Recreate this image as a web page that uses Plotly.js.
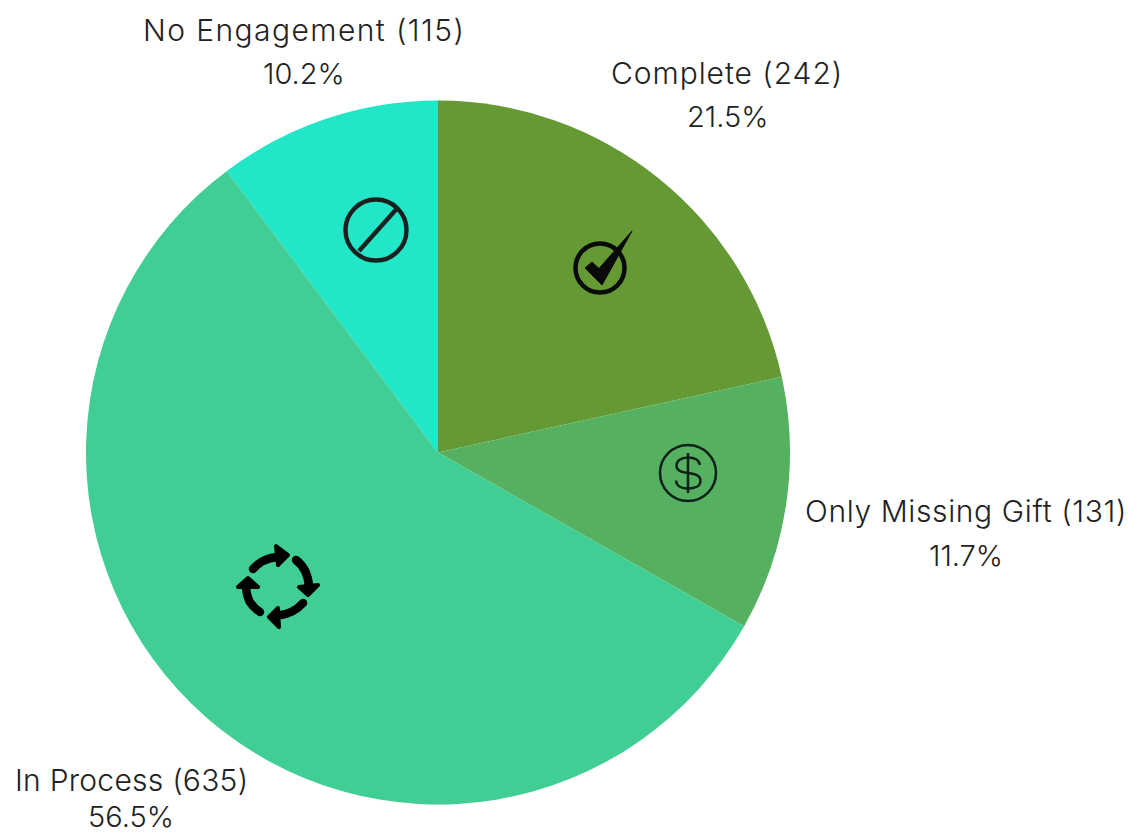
<!DOCTYPE html>
<html><head><meta charset="utf-8">
<script src="https://cdn.plot.ly/plotly-3.0.1.min.js"></script>
<style>html,body{margin:0;padding:0;background:#fff}#c{width:1137px;height:834px}</style></head>
<body><div id="c"></div>
<script>
const categories = ["Complete","Only Missing Gift","In Process","No Engagement"];
const counts = [242,131,635,115];
const percents = ["21.5%","11.7%","56.5%","10.2%"];
const colors = ["#659933","#55b160","#40ce94","#22e6c8"];
const labelCenters = [[727,73],[966,511],[131,780],[304,30]];
const percentCenters = [[727,116],[966,555],[131,816],[304,73]];
const labelTracking = [0.95,0.62,0.25,1.42];
const W=1137,H=834,CX=438,CY=452.5,R=352;
const FONT='Inter, "Open Sans", sans-serif';
const px=x=>x/W, py=y=>1-y/H;

const annotations=[];
categories.forEach((c,i)=>{
  annotations.push({
    text:`<span style="letter-spacing:${labelTracking[i]}px">${c} (${counts[i]})</span>`,
    xref:'paper',yref:'paper',x:px(labelCenters[i][0]),y:py(labelCenters[i][1]),xanchor:'center',yanchor:'middle',
    showarrow:false,font:{family:FONT,size:30,weight:300,color:'#222222'}});
  annotations.push({
    text:percents[i],xref:'paper',yref:'paper',x:px(percentCenters[i][0]),y:py(percentCenters[i][1]),xanchor:'center',yanchor:'middle',
    showarrow:false,font:{family:FONT,size:29,weight:300,color:'#222222'}});
});

const svg=(w,h,body)=>'data:image/svg+xml;utf8,'+encodeURIComponent(
 `<svg xmlns="http://www.w3.org/2000/svg" width="${w}" height="${h}" viewBox="0 0 ${w} ${h}">${body}</svg>`);
const icon=(x,y,w,h,body)=>({source:svg(w,h,body),xref:'paper',yref:'paper',x:px(x),y:py(y),
  sizex:w/W,sizey:h/H,xanchor:'left',yanchor:'top',sizing:'stretch',layer:'above'});
const images=[
 icon(336,190,80,80,`<g fill="none" stroke="#1a1f1f" stroke-width="4.4"><circle cx="40" cy="40" r="30.5"/><line x1="60.5" y1="19" x2="23" y2="61"/></g>`),
 icon(565,225,70,75,`<circle cx="35" cy="43" r="24.5" fill="none" stroke="#0a0a0a" stroke-width="4.5"/><path d="M20 43 L27 37 L34 43.5 L67 6 L37 60 Z" fill="#0a0a0a" stroke="#0a0a0a" stroke-width="1" stroke-linejoin="round"/>`),
 icon(652,437,72,72,`<g fill="none" stroke="#10201a" stroke-width="2.5"><circle cx="36" cy="36" r="28"/><line x1="36" y1="16" x2="36" y2="56"/><path d="M48 28 C47 22 42 20.5 36 20.5 C29 20.5 24.5 24 24.5 28.5 C24.5 40 48.5 32 48.5 44 C48.5 49 43 51.5 36 51.5 C29 51.5 24.5 49 24 43.5"/></g>`),
 icon(233,540,90,90,`<g fill="none" stroke="#000" stroke-width="8.5" stroke-linecap="round"><path d="M20 29 C26 22 34 18 44 17"/><path d="M63 20 C71 26 75 34 76 46"/><path d="M70 63 C63 71 55 74.5 45 75.5"/><path d="M27 72 C18 66 14 60 13 47"/></g><g fill="#000" stroke="#000" stroke-width="4" stroke-linejoin="round"><path d="M43 6 L55 15 L45 25 Z"/><path d="M66 47 L85 45 L75 55 Z"/><path d="M45 68 L36 77 L46 87 Z"/><path d="M5 47 L15 38 L25 47 Z"/></g>`)
];

Plotly.newPlot('c',[{
  type:'pie',labels:categories,values:counts,sort:false,direction:'clockwise',rotation:0,
  marker:{colors:colors,line:{width:0}},textinfo:'none',hoverinfo:'label+value+percent',
  domain:{x:[(CX-R)/W,(CX+R)/W],y:[1-(CY+R)/H,1-(CY-R)/H]}
}],{
  width:W,height:H,margin:{l:0,r:0,t:0,b:0},showlegend:false,
  paper_bgcolor:'#fff',annotations,images
},{displayModeBar:false,staticPlot:true});
</script></body></html>
